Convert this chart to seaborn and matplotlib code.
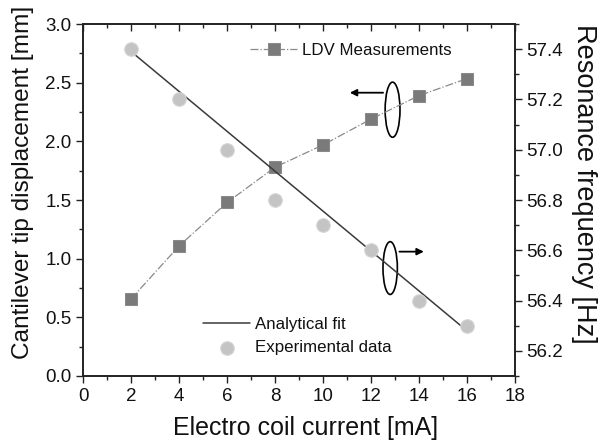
import matplotlib
matplotlib.use("Agg")
import matplotlib.pyplot as plt
from matplotlib.patches import Ellipse
from matplotlib.ticker import MultipleLocator, FormatStrFormatter
import pandas as pd
import seaborn as sns

# Data
current = [2, 4, 6, 8, 10, 12, 14, 16]
ldv_disp = [0.66, 1.11, 1.48, 1.78, 1.97, 2.19, 2.39, 2.535]
exp_freq = [57.40, 57.20, 57.00, 56.80, 56.70, 56.60, 56.40, 56.30]
fit_current = [2, 16]
fit_freq = [57.39, 56.28]

df_ldv = pd.DataFrame({"current": current, "disp": ldv_disp})
df_exp = pd.DataFrame({"current": current, "freq": exp_freq})
df_fit = pd.DataFrame({"current": fit_current, "freq": fit_freq})

sns.set_style("ticks")
plt.rcParams["font.family"] = ["Liberation Sans", "DejaVu Sans"]
plt.rcParams["text.color"] = "#111111"
plt.rcParams["axes.labelcolor"] = "#111111"

fig = plt.figure(figsize=(6, 4.46), dpi=100)
ax = fig.add_axes([0.139, 0.157, 0.719, 0.789])
ax2 = ax.twinx()

# LDV measurements (left axis)
sns.lineplot(data=df_ldv, x="current", y="disp", ax=ax, color="#8a8a8a",
             linestyle="-.", linewidth=0.9, marker="s", markersize=8.5,
             markerfacecolor="#7a7a7a", markeredgecolor="#8a8a8a",
             label="LDV Measurements")

# Analytical fit + experimental data (right axis)
sns.lineplot(data=df_fit, x="current", y="freq", ax=ax2, color="#3a3a3a",
             linewidth=1.1, label="Analytical fit")
sns.scatterplot(data=df_exp, x="current", y="freq", ax=ax2, s=95,
                color="#c4c4c4", edgecolor="#d4d4d4", linewidth=0.8,
                label="Experimental data", zorder=3)

ax.set_xlim(0, 18)
ax.set_ylim(0, 3.0)
ax2.set_ylim(56.1, 57.5)

ax.xaxis.set_major_locator(MultipleLocator(2))
ax.xaxis.set_minor_locator(MultipleLocator(1))
ax.yaxis.set_major_locator(MultipleLocator(0.5))
ax.yaxis.set_minor_locator(MultipleLocator(0.25))
ax2.set_yticks([56.2, 56.4, 56.6, 56.8, 57.0, 57.2, 57.4])
ax2.yaxis.set_minor_locator(MultipleLocator(0.1))
ax.yaxis.set_major_formatter(FormatStrFormatter("%.1f"))
ax2.yaxis.set_major_formatter(FormatStrFormatter("%.1f"))

ax.tick_params(axis="both", which="major", labelsize=13.5, length=5, width=1,
               direction="out", colors="#222222", labelcolor="#111111")
ax.tick_params(axis="both", which="minor", length=3, width=1, direction="out")
ax.tick_params(axis="x", which="both", top=True)
ax2.tick_params(axis="y", which="major", labelsize=13.5, length=5, width=1,
                direction="out", colors="#222222", labelcolor="#111111")
ax2.tick_params(axis="y", which="minor", length=3, width=1, direction="out")

# top ticks point inward
for t in ax.xaxis.get_major_ticks() + ax.xaxis.get_minor_ticks():
    t.tick2line.set_marker(3)

for a in (ax, ax2):
    for s in a.spines.values():
        s.set_linewidth(1.2)
        s.set_color("#222222")

ax.set_xlabel("Electro coil current [mA]", fontsize=18, va="baseline")
ax.xaxis.set_label_coords(0.516, -0.1676)
ax.set_ylabel("Cantilever tip displacement [mm]", fontsize=17.6,
              va="baseline")
ax.yaxis.set_label_coords(-0.126, 0.55)
ax2.set_ylabel("Resonance frequency [Hz]", fontsize=19.5, rotation=270,
               va="baseline")
ax2.yaxis.set_label_coords(1.1437, 0.546)

ax.legend(loc="center left", bbox_to_anchor=(0.386, 0.924), frameon=False,
          fontsize=12.2, handlelength=2.8, handletextpad=0.3, borderpad=0,
          borderaxespad=0)
ax2.legend(loc="center left", bbox_to_anchor=(0.277, 0.113), frameon=False,
           fontsize=12.2, handlelength=2.8, handletextpad=0.3, borderpad=0,
           borderaxespad=0, labelspacing=0.45)

# ellipse + arrow annotations
ax.add_patch(Ellipse((12.9, 2.27), 0.62, 0.47, fill=False, lw=1.2,
                     color="black"))
ax.annotate("", xy=(11.0, 2.415), xytext=(12.62, 2.415),
            arrowprops=dict(arrowstyle="-|>", color="black", lw=1.3,
                            mutation_scale=10))
ax.add_patch(Ellipse((12.8, 0.92), 0.6, 0.45, fill=False, lw=1.2,
                     color="black"))
ax.annotate("", xy=(14.32, 1.06), xytext=(13.07, 1.06),
            arrowprops=dict(arrowstyle="-|>", color="black", lw=1.3,
                            mutation_scale=10))

fig.savefig("out.png", dpi=100)
